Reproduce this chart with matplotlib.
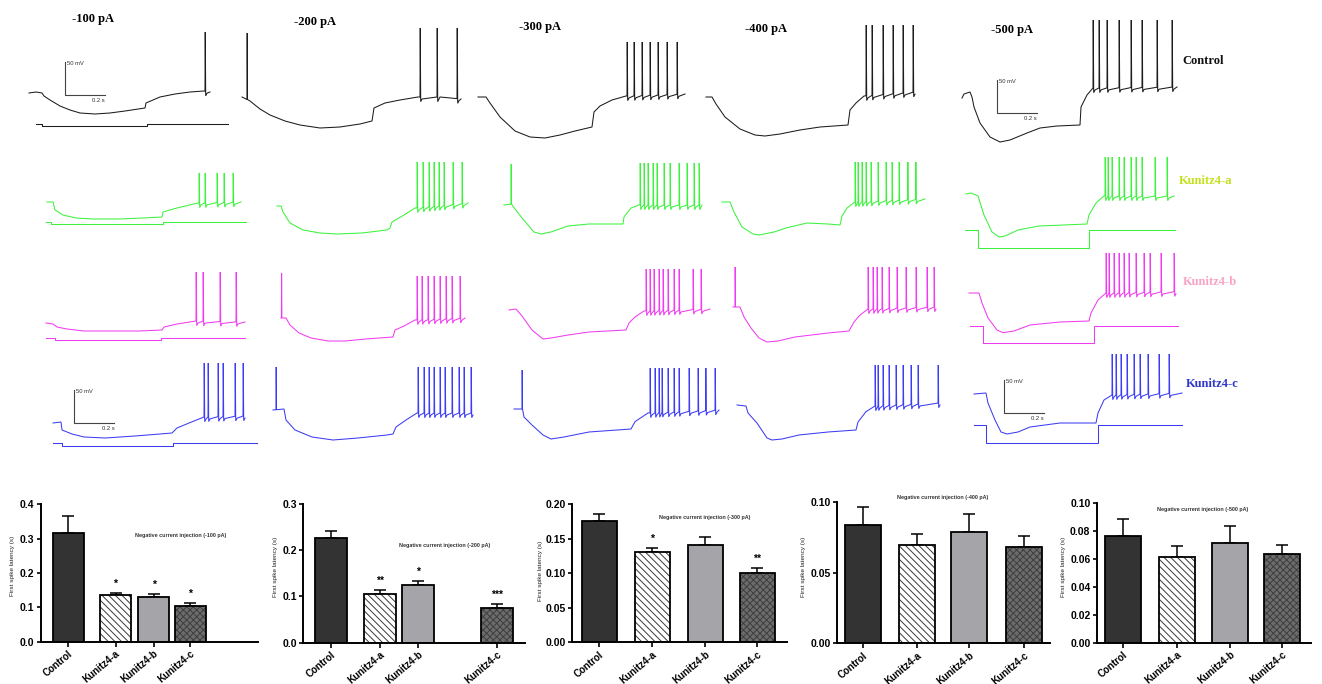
import numpy as np
import matplotlib
matplotlib.use("Agg")
import matplotlib.pyplot as plt

W, H = 1322, 684

# ------------------------------------------------------------------ data
currents_pA = [-100, -200, -300, -400, -500]
groups = ["Control", "Kunitz4-a", "Kunitz4-b", "Kunitz4-c"]

# membrane potential traces: keypoints of subthreshold trajectory (ms, mV),
# spike times (ms); one panel per group x injected current
t_c100 = [0, 35, 65, 75, 105, 155, 205, 255, 330, 405, 480, 580, 585, 655, 730, 805, 875, 905]
v_c100 = [-60, -58.5, -60, -64.5, -70.5, -79.5, -85.5, -90, -91.5, -90, -87, -82.5, -75, -66, -61.5, -58.5, -57, -58.5]
sp_c100 = [880]
t_c200 = [0, 40, 90, 140, 215, 290, 390, 490, 590, 650, 660, 715, 790, 880, 990, 1095]
v_c200 = [-60, -66, -78, -87, -96, -102, -106.5, -105, -100.5, -96, -76.5, -69, -64.5, -60, -60, -63]
sp_c200 = [890, 975, 1075]
t_c300 = [0, 40, 60, 110, 185, 260, 335, 410, 485, 570, 580, 610, 670, 740, 1035]
v_c300 = [-60, -60, -69, -90, -111, -120, -121.5, -117, -111, -105, -82.5, -73.5, -64.5, -58.5, -55.5]
sp_c300 = [745, 780, 820, 860, 900, 945, 995]
t_c400 = [0, 30, 50, 95, 170, 245, 295, 370, 470, 570, 710, 720, 750, 790, 1045]
v_c400 = [-60, -60, -70.5, -90, -108, -117, -118.5, -115.5, -109.5, -105, -102, -79.5, -69, -58.5, -52.5]
sp_c400 = [800, 830, 885, 935, 985, 1035]
t_c500 = [0, 10, 40, 50, 60, 90, 140, 190, 240, 325, 390, 475, 590, 595, 625, 655, 1075]
v_c500 = [-61.5, -55.5, -52.5, -60, -75, -99, -120, -127.5, -124.5, -114, -106.5, -103.5, -102, -75, -57, -46.5, -45]
sp_c500 = [655, 685, 725, 785, 845, 900, 975, 1050]
peaks_ctrl = [31.5, 43.5, 22.5, 48, 55.5]

t_a100 = [0, 30, 40, 80, 145, 230, 355, 480, 575, 580, 650, 755, 970]
v_a100 = [-60, -60, -72, -79.5, -84, -85.5, -85.5, -84, -82.5, -75, -69, -61.5, -60]
sp_a100 = [760, 790, 850, 885, 930]
t_a200 = [0, 20, 30, 65, 130, 215, 300, 425, 550, 565, 575, 635, 690, 955]
v_a200 = [-60, -60, -69, -85.5, -96, -100.5, -102, -100.5, -96, -93, -84, -73.5, -63, -55.5]
sp_a200 = [700, 730, 760, 785, 810, 835, 880, 925]
t_a300 = [0, 35, 45, 90, 150, 185, 235, 320, 425, 595, 600, 635, 675, 990]
v_a300 = [-60, -58.5, -62, -79.5, -100.5, -103.5, -100.5, -91.5, -88.5, -88.5, -78, -64.5, -60, -60]
sp_a300 = [680, 700, 720, 745, 765, 800, 830, 875, 915, 950, 975]
t_a400 = [0, 40, 60, 100, 155, 185, 260, 320, 425, 530, 590, 600, 625, 665, 1015]
v_a400 = [-60, -60, -75, -97.5, -108, -109.5, -105, -99, -91.5, -93, -94.5, -81, -69, -60, -55.5]
sp_a400 = [665, 680, 700, 720, 745, 780, 820, 850, 885, 928, 968]
t_a500 = [0, 25, 60, 90, 130, 165, 195, 260, 365, 490, 605, 615, 650, 690, 1040]
v_a500 = [-60, -58.5, -63, -91.5, -117, -124.5, -123, -114, -108, -106.5, -105, -91.5, -73.5, -63, -63]
sp_a500 = [695, 710, 730, 765, 790, 825, 850, 880, 945, 1005]
peaks_a = [-16.5, 6, 3, 0, -4.5]

t_b100 = [0, 35, 55, 105, 190, 315, 465, 580, 590, 655, 750, 995]
v_b100 = [-60, -61.5, -66, -69, -72, -72, -72, -70.5, -66, -61.5, -57, -58.5]
sp_b100 = [750, 785, 870, 950]
t_b200 = [0, 25, 45, 90, 150, 235, 320, 425, 560, 570, 615, 670, 920]
v_b200 = [-60, -60, -70.5, -82.5, -90, -94.5, -94.5, -91.5, -88.5, -78, -72, -63, -60]
sp_b200 = [680, 705, 735, 765, 795, 825, 855, 895]
t_b300 = [0, 35, 65, 115, 170, 210, 295, 400, 585, 600, 630, 675, 1005]
v_b300 = [-60, -58.5, -69, -90, -103.5, -102, -97.5, -93, -90, -79.5, -70.5, -61.5, -58.5]
sp_b300 = [685, 705, 725, 750, 770, 795, 825, 850, 920, 960]
t_b400 = [0, 35, 55, 90, 130, 170, 225, 310, 475, 580, 605, 635, 675, 1015]
v_b400 = [-60, -60, -75, -91.5, -106.5, -112.5, -111, -105, -99, -96, -82.5, -72, -63, -60]
sp_b400 = [675, 700, 720, 745, 780, 820, 865, 915, 970, 1005]
t_b500 = [0, 50, 65, 95, 140, 170, 225, 305, 455, 600, 610, 645, 685, 1035]
v_b500 = [-60, -60, -75, -97.5, -115.5, -119.5, -117, -108, -103.5, -102, -90, -70.5, -60, -58]
sp_b500 = [685, 700, 725, 750, 775, 800, 835, 875, 905, 960, 1025]
peaks_b = [16.5, 3, 1.5, 0, 0]

t_k100 = [0, 40, 45, 95, 155, 260, 410, 535, 595, 620, 680, 755, 955]
v_k100 = [-60, -58.5, -70.5, -76.5, -81, -82.5, -79.5, -76.5, -75, -67.5, -60, -51, -49.5]
sp_k100 = [755, 775, 825, 850, 910, 950]
t_k200 = [0, 55, 65, 110, 195, 300, 425, 570, 600, 615, 665, 720, 995]
v_k200 = [-60, -58.5, -75, -90, -100.5, -105, -102, -97.5, -96, -85.5, -75, -64.5, -64.5]
sp_k200 = [725, 755, 780, 805, 835, 860, 895, 930, 955, 990]
t_k300 = [0, 40, 50, 90, 145, 185, 250, 375, 585, 605, 670, 1025]
v_k300 = [-60, -60, -72, -84, -99, -105, -102, -94.5, -90, -79, -66, -61.5]
sp_k300 = [680, 705, 725, 740, 770, 800, 825, 875, 920, 958, 1005]
t_k400 = [0, 45, 55, 100, 150, 175, 225, 310, 455, 595, 605, 645, 690, 1010]
v_k400 = [-60, -61.5, -72, -87, -109.5, -112.5, -111, -105, -100.5, -97.5, -85.5, -70, -61.5, -57]
sp_k400 = [690, 705, 730, 760, 795, 830, 870, 905, 1005]
t_k500 = [0, 60, 70, 105, 135, 165, 220, 280, 430, 610, 620, 650, 690, 1040]
v_k500 = [-60, -58.5, -73.5, -99, -117, -120, -117, -109.5, -103.5, -103.5, -88.5, -69, -61.5, -58.5]
sp_k500 = [690, 710, 735, 765, 800, 830, 870, 925, 975]
peaks_k = [30, 4.5, 1.5, 0, 0]

# stimulus artefacts at current onset: (time ms, peak mV)
trans_c200 = [25, 36]
trans_a300 = [35, 1.5]
trans_b200 = [2, 7.5]
trans_b400 = [10, 0]
trans_k200 = [15, 4.5]
trans_k300 = [40, -1.5]

# injected-current step timing (start, on, off, end) in ms
cur_c100 = [35, 65, 590, 995]
cur_a100 = [-5, 20, 580, 995]
cur_a500 = [-5, 60, 615, 1045]
cur_b100 = [0, 45, 575, 995]
cur_b500 = [5, 70, 625, 1045]
cur_k100 = [0, 45, 600, 1020]
cur_k500 = [0, 60, 620, 1040]

# first spike latency (s): mean, SEM, significance
lat_100 = [0.315, 0.135, 0.130, 0.105]
err_100 = [0.052, 0.008, 0.009, 0.008]
sig_100 = ["", "*", "*", "*"]
lat_200 = [0.226, 0.105, 0.124, 0.075]
err_200 = [0.015, 0.008, 0.010, 0.008]
sig_200 = ["", "**", "*", "***"]
lat_300 = [0.176, 0.130, 0.140, 0.100]
err_300 = [0.010, 0.007, 0.012, 0.007]
sig_300 = ["", "*", "", "**"]
lat_400 = [0.084, 0.070, 0.079, 0.068]
err_400 = [0.013, 0.0075, 0.0125, 0.008]
sig_400 = ["", "", "", ""]
lat_500 = [0.076, 0.0615, 0.0715, 0.0635]
err_500 = [0.0125, 0.0075, 0.012, 0.006]
sig_500 = ["", "", "", ""]

yticks_100 = [0.0, 0.1, 0.2, 0.3, 0.4]
yticks_200 = [0.0, 0.1, 0.2, 0.3]
yticks_300 = [0.00, 0.05, 0.10, 0.15, 0.20]
yticks_400 = [0.00, 0.05, 0.10]
yticks_500 = [0.00, 0.02, 0.04, 0.06, 0.08, 0.10]

# ------------------------------------------------------------------ style / layout
row_colors = ["#1c1c1c", "#3cf23c", "#f03cf0", "#3c3cf4"]
row_label_colors = ["#111111", "#c4e01c", "#f7a3c4", "#2f37c9"]
row_label_pos = [(1203, 61), (1206, 181), (1210, 282), (1212, 384)]
title_pos = [(93, 19), (315, 22), (540, 27), (766, 29), (1012, 30)]
panel_origin_px = [
    [(29, 93), (242, 97), (478, 97), (706, 97), (962, 97)],
    [(47, 202), (277, 206), (504, 205), (722, 202), (966, 194)],
    [(46, 323), (281, 318), (509, 310), (733, 307), (969, 293)],
    [(53, 423), (273, 410), (514, 409), (737, 405), (974, 394)],
]
# current trace display: (level in trace units, gain per pA)
cur_display = {
    (0, 0): (cur_c100, -106.5, 0.0225),
    (1, 0): (cur_a100, -90, 0.03),
    (1, 4): (cur_a500, -114, 0.054),
    (2, 0): (cur_b100, -82.5, 0.03),
    (2, 4): (cur_b500, -109.5, 0.052),
    (3, 0): (cur_k100, -90, 0.05),
    (3, 4): (cur_k500, -106.5, 0.053),
}
# scale bars: panel -> (t start, V bottom)
scalebars = {(0, 0): (180, -63), (0, 4): (175, -84), (3, 0): (107, -60), (3, 4): (150, -88.5)}

trace_t = [[t_c100, t_c200, t_c300, t_c400, t_c500],
           [t_a100, t_a200, t_a300, t_a400, t_a500],
           [t_b100, t_b200, t_b300, t_b400, t_b500],
           [t_k100, t_k200, t_k300, t_k400, t_k500]]
trace_v = [[v_c100, v_c200, v_c300, v_c400, v_c500],
           [v_a100, v_a200, v_a300, v_a400, v_a500],
           [v_b100, v_b200, v_b300, v_b400, v_b500],
           [v_k100, v_k200, v_k300, v_k400, v_k500]]
trace_sp = [[sp_c100, sp_c200, sp_c300, sp_c400, sp_c500],
            [sp_a100, sp_a200, sp_a300, sp_a400, sp_a500],
            [sp_b100, sp_b200, sp_b300, sp_b400, sp_b500],
            [sp_k100, sp_k200, sp_k300, sp_k400, sp_k500]]
peaks = [peaks_ctrl, peaks_a, peaks_b, peaks_k]
transients = {(0, 1): trans_c200, (1, 2): trans_a300, (2, 1): trans_b200,
              (2, 3): trans_b400, (3, 1): trans_k200, (3, 2): trans_k300}

fig = plt.figure(figsize=(W / 100, H / 100), dpi=100)
fig.patch.set_facecolor("white")


def fx(x):
    return x / W


def fy(y):
    return 1 - y / H


def build_trace(t, v, spikes, peak, trans=None):
    t = np.asarray(t, float)
    v = np.asarray(v, float)
    events = [(s, peak, True) for s in spikes]
    if trans is not None:
        events.append((trans[0], trans[1], False))
    events.sort()
    xs, ys = [], []
    i = 0
    for ts, pk, ahp in events:
        while i < len(t) and t[i] < ts:
            xs.append(t[i]); ys.append(v[i]); i += 1
        b = float(np.interp(ts, t, v))
        if ahp:
            xs += [ts, ts + 1.2, ts + 3.5, ts + 10]
            ys += [b, pk, b - 7, b - 3]
            end = ts + 10
        else:
            xs += [ts, ts + 1.0, ts + 2.5]
            ys += [b, pk, b]
            end = ts + 2.5
        while i < len(t) and t[i] <= end:
            i += 1
    while i < len(t):
        xs.append(t[i]); ys.append(v[i]); i += 1
    return xs, ys


for r in range(4):
    for c in range(5):
        x0, y0 = panel_origin_px[r][c]
        ax = fig.add_axes([fx(x0 - 20), fy(y0 + 70), 260 / W, 170 / H])
        ax.set_xlim(-100, 1200)
        ax.set_ylim(-165, 90)
        ax.axis("off")
        ax.patch.set_visible(False)
        xs, ys = build_trace(trace_t[r][c], trace_v[r][c], trace_sp[r][c], peaks[r][c],
                             transients.get((r, c)))
        ax.plot(xs, ys, color=row_colors[r], lw=0.75, clip_on=False, solid_joinstyle="miter")
        if (r, c) in cur_display:
            times, level, gain = cur_display[(r, c)]
            s, on, off, e = times
            d = currents_pA[c] * gain
            ax.plot([s, on, on, off, off, e],
                    [level, level, level + d, level + d, level, level],
                    color=row_colors[r], lw=0.75, clip_on=False)
        if (r, c) in scalebars:
            ts, vb = scalebars[(r, c)]
            ax.plot([ts, ts, ts + 200], [vb + 50, vb, vb], color="#444444", lw=0.8, clip_on=False)
            ax.text(ts + 8, vb + 47, "50 mV", fontsize=4.2, color="#333333",
                    ha="left", va="center", family="Liberation Sans")
            ax.text(ts + 200, vb - 4, "0.2 s", fontsize=4.2, color="#333333",
                    ha="right", va="top", family="Liberation Sans")

for c, (x, y) in enumerate(title_pos):
    fig.text(fx(x), fy(y), f"{currents_pA[c]} pA", ha="center", va="center",
             fontsize=9, fontweight="bold", family="Liberation Serif")
for r, (x, y) in enumerate(row_label_pos):
    fig.text(fx(x), fy(y), groups[r], ha="center", va="center", fontsize=9,
             fontweight="bold", family="Liberation Serif", color=row_label_colors[r])

# ------------------------------------------------------------------ bar charts
lats = [lat_100, lat_200, lat_300, lat_400, lat_500]
errs = [err_100, err_200, err_300, err_400, err_500]
sigs = [sig_100, sig_200, sig_300, sig_400, sig_500]
yticks = [yticks_100, yticks_200, yticks_300, yticks_400, yticks_500]
tick_fmt = ["{:.1f}", "{:.1f}", "{:.2f}", "{:.2f}", "{:.2f}"]
# axis geometry (px): left, right, zero-line y, top-tick y
chart_geom = [(40.7, 258, 641.7, 504.3), (303.3, 525, 642.7, 504),
              (571.7, 787, 642.3, 504), (836.7, 1050, 643.3, 502.3),
              (1096.7, 1311, 642.7, 502.7)]
chart_xpos = [[27.6, 74.8, 113, 149.3], [27.7, 76.7, 114.7, 193.7],
              [27.3, 80.3, 133.3, 185.3], [26.3, 80.3, 132.3, 187.3],
              [26.3, 80.3, 133.3, 185.3]]
chart_width = [31, 32, 35, 35.5, 35.5]
chart_title_pos = [(181, 536), (445, 546), (705, 517), (943, 497), (1203, 510)]
ylabel_pos = [(12.3, 566), (275, 567), (540.7, 571), (804, 567), (1063.3, 567)]

bar_face = ["#333333", "#ffffff", "#a4a4a9", "#6c6c6c"]
bar_hatch = [None, "\\\\\\\\\\", None, "xxxxx"]
hatch_col = [None, "#3a3a3a", None, "#3e3e3e"]
plt.rcParams["hatch.linewidth"] = 0.7

for k in range(5):
    left, right, y0p, ytp = chart_geom[k]
    ax = fig.add_axes([fx(left), fy(y0p), (right - left) / W, (y0p - ytp) / H])
    ax.set_xlim(0, right - left)
    ax.set_ylim(0, yticks[k][-1])
    xp = chart_xpos[k]
    wd = chart_width[k]
    for j in range(4):
        if bar_hatch[j]:
            ax.bar(xp[j], lats[k][j], width=wd, color=bar_face[j], hatch=bar_hatch[j],
                   edgecolor=hatch_col[j], linewidth=0, zorder=2)
        else:
            ax.bar(xp[j], lats[k][j], width=wd, color=bar_face[j], linewidth=0, zorder=2)
        ax.bar(xp[j], lats[k][j], width=wd, fill=False, edgecolor="black", linewidth=1.3, zorder=3)
    ax.errorbar(xp, lats[k], yerr=[np.zeros(4), errs[k]], fmt="none", ecolor="black",
                elinewidth=1.1, capsize=4.5, capthick=1.1, zorder=1.5)
    for j in range(4):
        if sigs[k][j]:
            ax.annotate(sigs[k][j], (xp[j], lats[k][j] + errs[k][j]), xytext=(0, 3),
                        textcoords="offset points", ha="center", va="bottom",
                        fontsize=7.5, fontweight="bold", family="Liberation Sans")
    for s in ["top", "right"]:
        ax.spines[s].set_visible(False)
    for s in ["left", "bottom"]:
        ax.spines[s].set_linewidth(1.4)
    ax.set_yticks(yticks[k])
    ax.set_yticklabels([tick_fmt[k].format(v) for v in yticks[k]], fontsize=7.5,
                       fontweight="bold", family="Liberation Sans")
    ax.set_xticks(xp)
    ax.set_xticklabels(groups, rotation=40, ha="right", va="top", rotation_mode="anchor",
                       fontsize=7, fontweight="bold", family="Liberation Sans")
    ax.tick_params(axis="both", direction="out", length=3, width=1.2, pad=1.5)
    ax.tick_params(axis="x", length=3.5, pad=1.5)
    ax.patch.set_visible(False)
    tx, ty = chart_title_pos[k]
    fig.text(fx(tx), fy(ty), f"Negative current injection ({currents_pA[k]} pA)",
             ha="center", va="center", fontsize=3.9, fontweight="bold",
             family="Liberation Sans", color="#333333")
    lx, ly = ylabel_pos[k]
    fig.text(fx(lx), fy(ly), "First spike latency (s)", rotation=90, ha="center",
             va="center", fontsize=4.6, family="Liberation Sans", color="#222222")

fig.savefig("out.png", dpi=100, facecolor="white")
